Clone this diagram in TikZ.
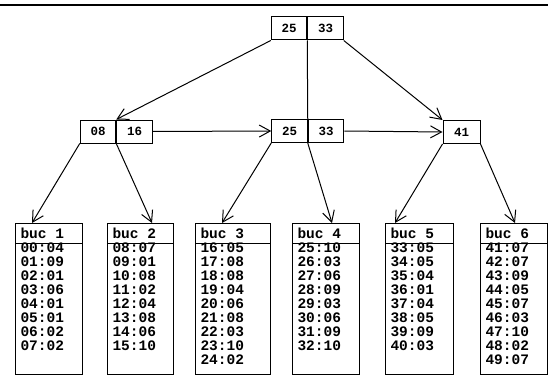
\documentclass[tikz,border=0pt]{standalone}
\usepackage{fontspec}
\setmonofont{Liberation Mono}
\usetikzlibrary{positioning,arrows.meta}

\begin{document}
\begin{tikzpicture}[x=1pt, y=-1pt, line width=1pt, >={Straight Barb[length=11pt,width=12pt]},
  cell/.style={draw, minimum width=35.5pt, minimum height=23pt, inner sep=0pt, font=\ttfamily\bfseries\fontsize{12.5}{14}\selectfont},
  bucket/.style={draw, anchor=north west, minimum height=151pt, inner sep=0pt},
  entry/.style={anchor=base west, inner sep=0pt, font=\ttfamily\bfseries\fontsize{14.5}{14}\selectfont}]
  \useasboundingbox (0,0) rectangle (548,377);
  \draw[line width=1.5pt] (0,5) -- (548,5);

  % index nodes
  \node[cell] (t25) at (289,28.5) {25};
  \node[cell, right=0pt of t25] (t33) {33};
  \node[cell] (l08) at (98,131.5) {08};
  \node[cell, right=0pt of l08] (l16) {16};
  \node[cell] (m25) at (289.5,131) {25};
  \node[cell, right=0pt of m25] (m33) {33};
  \node[cell, minimum width=37pt] (r41) at (461.5,132) {41};

  \draw[->] (t25.south west) -- (l08.north east);
  \draw[->] (t33.south east) -- (r41.north west);
  \draw (t25.south east) -- (m25.north east);
  \draw[->] (l16.east) -- (m25.west);
  \draw[->] (m33.east) -- (r41.west);

  % buckets
  \foreach \n/\x/\w/\rows in {
    1/15/67/{00:04,01:09,02:01,03:06,04:01,05:01,06:02,07:02},
    2/107/66/{08:07,09:01,10:08,11:02,12:04,13:08,14:06,15:10},
    3/195/75/{16:05,17:08,18:08,19:04,20:06,21:08,22:03,23:10,24:02},
    4/292/67/{25:10,26:03,27:06,28:09,29:03,30:06,31:09,32:10},
    5/385/68/{33:05,34:05,35:04,36:01,37:04,38:05,39:09,40:03},
    6/480/67/{41:07,42:07,43:09,44:05,45:07,46:03,47:10,48:02,49:07}} {
    \node[bucket, minimum width=\w pt] (b\n) at (\x,223) {};
    \draw ([yshift=-20pt]b\n.north west) -- ([yshift=-20pt]b\n.north east);
    \node[entry] (h\n) at (\x+5,238.5) {buc\ \n};
    \foreach \e [count=\i] in \rows
      \node[entry] (e\n-\i) at (\x+5,238.7+14*\i) {\e};
  }

  \draw[->] (l08.south west) -- ([xshift=17pt]b1.north west);
  \draw[->] (l08.south east) -- ([xshift=45pt]b2.north west);
  \draw[->] (m25.south west) -- ([xshift=27pt]b3.north west);
  \draw[->] (m25.south east) -- ([xshift=40pt]b4.north west);
  \draw[->] (r41.south west) -- ([xshift=10pt]b5.north west);
  \draw[->] (r41.south east) -- ([xshift=35pt]b6.north west);
\end{tikzpicture}
\end{document}
